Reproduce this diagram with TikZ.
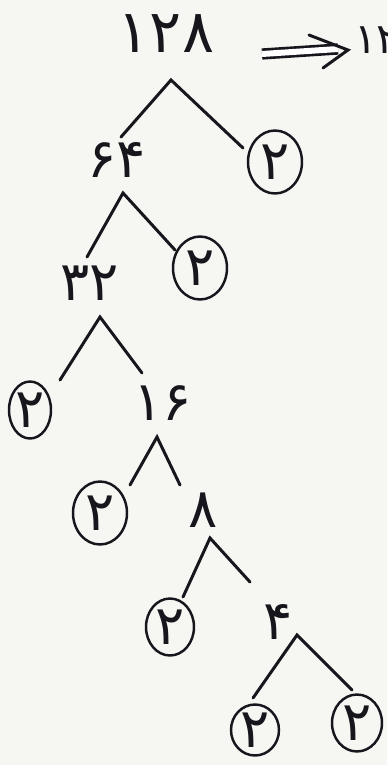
\documentclass[tikz,border=0pt]{standalone}
\usepackage{fontspec}
\usepackage{tikz}
\usetikzlibrary{positioning, arrows.meta, shapes.geometric}
\newfontfamily\fanum{DejaVu Sans}
\definecolor{cInk}{HTML}{16161C}
\definecolor{cPaper}{HTML}{F6F6F3}
\tikzset{
  num/.style      ={font=\fanum\fontsize{31}{31}\selectfont, text=cInk,
                    inner sep=0pt},
  bignum/.style   ={num, font=\fanum\fontsize{34}{34}\selectfont},
  twobox/.style   ={ellipse, draw=cInk, line width=1.4pt, inner sep=0pt,
                    minimum width=1.08cm, minimum height=1.26cm,
                    font=\fanum\fontsize{31}{31}\selectfont, text=cInk},
  branch/.style   ={draw=cInk, line width=1.7pt, line cap=round},
  implies/.style  ={draw=cInk, line width=1.5pt, double distance=0.12cm},
}

\begin{document}
\begin{tikzpicture}[x=0.02cm, y=-0.02cm]

  % ============================================================
  % PAPER (fixes the 387 x 765 frame)
  % ============================================================
  \fill[cPaper] (0,0) rectangle (387,765);
  \useasboundingbox (0,0) rectangle (387,765);

  % ============================================================
  % FACTOR NODES (composite numbers on the trunk)
  % ============================================================
  \node[bignum] (n128) at (166,34)  {۱۲۸};
  \node[num]    (n64)  at (117,160) {۶۴};
  \node[num]    (n32)  at (90,283)  {۳۲};
  \node[num]    (n16)  at (163,403) {۱۶};
  \node[num]    (n8)   at (203,510) {۸};
  \node[num]    (n4)   at (278,622) {۴};

  % --- circled prime leaves ---
  \node[twobox] (c1) at (275,162) {۲};
  \node[twobox] (c2) at (200,268) {۲};
  \node[twobox, minimum width=0.84cm, minimum height=1.14cm] (c3) at (30,410) {۲};
  \node[twobox] (c4) at (100,513) {۲};
  \node[twobox, minimum width=0.96cm, minimum height=1.14cm] (c5) at (170,627) {۲};
  \node[twobox, minimum width=0.96cm, minimum height=1.02cm] (c6) at (255,730) {۲};
  \node[twobox, minimum width=1.0cm, minimum height=1.14cm] (c7) at (357,723) {۲};

  % ============================================================
  % BRANCHES (apex under each factor, free ends above children)
  % ============================================================
  \coordinate (a1) at (171,80);  \coordinate (l1) at (121,137); \coordinate (r1) at (243,148);
  \coordinate (a2) at (123,193); \coordinate (l2) at (87,257);  \coordinate (r2) at (175,250);
  \coordinate (a3) at (100,317); \coordinate (l3) at (60,380);  \coordinate (r3) at (142,373);
  \coordinate (a4) at (157,437); \coordinate (l4) at (130,485); \coordinate (r4) at (180,485);
  \coordinate (a5) at (210,538); \coordinate (l5) at (183,597); \coordinate (r5) at (250,582);
  \coordinate (a6) at (297,635); \coordinate (l6) at (253,698); \coordinate (r6) at (352,690);

  \foreach \k in {1,...,6}
    \draw[branch] (l\k) -- (a\k) -- (r\k);

  % ============================================================
  % RESULT (cut off at the right edge)
  % ============================================================
  \coordinate (ar0) at (262,54);
  \coordinate (ar1) at (338,49);
  \coordinate (hd1) at (309,35);
  \coordinate (tip) at (348,50);
  \coordinate (hd2) at (323,68);
  \draw[implies] (ar0) -- (ar1);
  \draw[branch] (hd1) -- (tip) -- (hd2);
  \node[num, anchor=west, font=\fanum\fontsize{24}{24}\selectfont] (res) at (354,40) {۱۲۸};

\end{tikzpicture}
\end{document}
